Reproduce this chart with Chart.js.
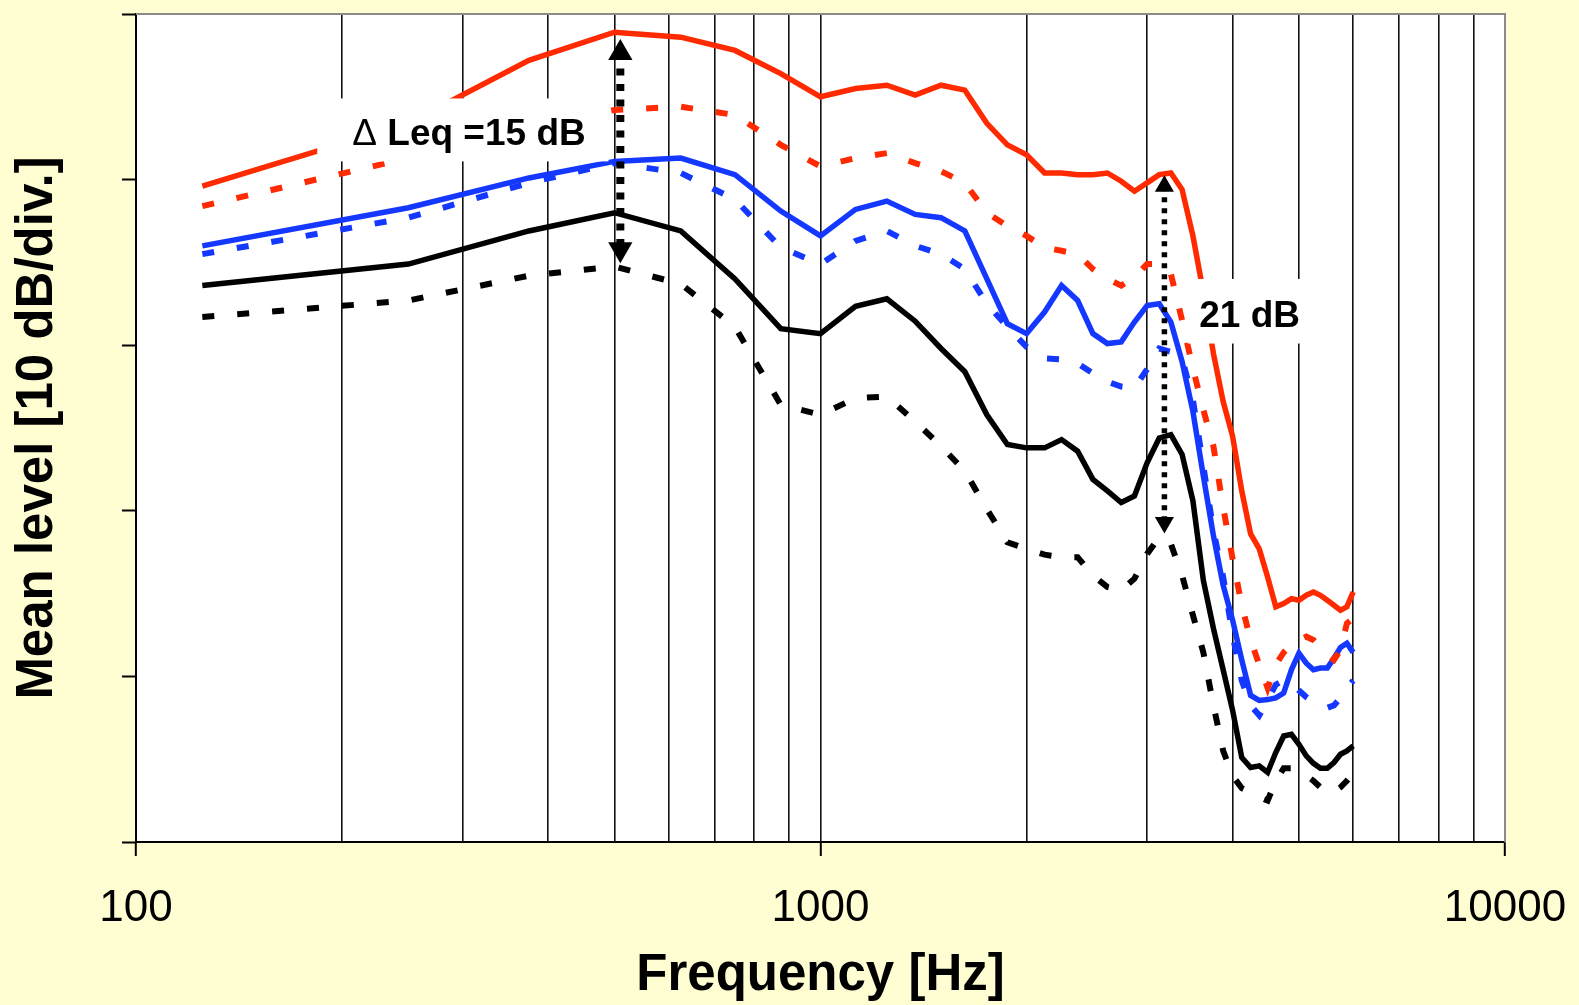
<!DOCTYPE html>
<html>
<head>
<meta charset="utf-8">
<title>Mean level spectrum</title>
<script src="https://cdn.jsdelivr.net/npm/chart.js@4.4.1/dist/chart.umd.min.js"></script>
<style>
  html, body { margin: 0; padding: 0; background: #FFFED3; }
  canvas { display: block; }
</style>
</head>
<body>
<canvas id="spectrumChart" width="1579" height="1005"></canvas>
<script>
// narrowband spectrum, 125 Hz bins
const freqs = [125, 250, 375, 500, 625, 750, 875, 1000, 1125, 1250, 1375, 1500,
  1625, 1750, 1875, 2000, 2125, 2250, 2375, 2500, 2625, 2750, 2875, 3000,
  3125, 3250, 3375, 3500, 3625, 3750, 3875, 4000, 4125, 4250, 4375, 4500,
  4625, 4750, 4875, 5000, 5125, 5250, 5375, 5500, 5625, 5750, 5875, 6000];

const redSolid = [39.6, 43.4, 47.2, 48.9, 48.6, 47.8, 46.4, 45.0, 45.5, 45.7, 45.1, 45.7,
  45.4, 43.4, 42.1, 41.5, 40.4, 40.4, 40.3, 40.3, 40.4, 39.9, 39.3, 39.8,
  40.3, 40.4, 39.4, 36.6, 33.2, 29.5, 26.6, 24.5, 21.2, 18.6, 17.7, 16.0,
  14.2, 14.4, 14.7, 14.6, 14.9, 15.1, 14.9, 14.6, 14.3, 14.0, 14.2, 15.1];
const redDash = [38.4, 41.3, 43.2, 44.2, 44.4, 43.9, 42.1, 40.8, 41.3, 41.6, 41.0, 40.5,
  39.8, 38.0, 37.2, 36.6, 35.9, 35.7, 35.5, 34.6, 34.0, 33.6, 34.1, 34.9,
  34.9, 34.3, 31.5, 28.6, 26.1, 23.9, 20.2, 17.1, 14.3, 12.2, 10.7, 9.3,
  10.7, 11.45, 11.9, 12.2, 12.4, 12.2, 11.75, 11.3, 11.0, 11.6, 13.2, 13.5];
const blueSolid = [36.0, 38.3, 40.1, 41.1, 41.3, 40.3, 38.1, 36.6, 38.2, 38.7, 37.9, 37.7,
  36.9, 34.0, 31.3, 30.7, 32.0, 33.6, 32.7, 30.7, 30.1, 30.2, 31.4, 32.4,
  32.5, 31.4, 29.0, 26.0, 22.1, 18.5, 15.5, 13.4, 11.0, 8.85, 8.55, 8.6,
  8.7, 9.0, 10.4, 11.4, 10.8, 10.4, 10.5, 10.5, 11.1, 11.75, 12.0, 11.45];
const blueDash = [35.5, 37.7, 39.8, 41.0, 40.4, 38.8, 35.9, 34.9, 36.3, 36.9, 36.0, 35.5,
  34.6, 32.5, 31.1, 29.9, 29.2, 29.15, 28.9, 28.3, 27.8, 27.5, 27.4, 28.55,
  29.8, 29.6, 29.2, 26.7, 22.7, 18.8, 16.0, 12.5, 9.75, 8.25, 7.65, 8.55,
  9.5, 9.75, 9.6, 9.15, 8.75, 8.45, 8.25, 8.1, 8.25, 8.7, 9.3, 9.75];
const blackSolid = [33.6, 34.9, 36.9, 38.0, 36.9, 34.0, 31.0, 30.7, 32.35, 32.8, 31.45, 29.8,
  28.4, 25.8, 24.0, 23.8, 23.8, 24.3, 23.6, 21.9, 21.2, 20.5, 20.9, 22.9,
  24.4, 24.6, 23.4, 20.6, 15.8, 12.9, 10.4, 7.95, 5.1, 4.5, 4.6, 4.2,
  5.4, 6.4, 6.5, 5.9, 5.2, 4.75, 4.45, 4.45, 4.8, 5.3, 5.5, 5.8];
const blackDash = [31.7, 32.7, 34.2, 34.75, 33.7, 31.1, 26.4, 25.8, 26.8, 26.9, 25.4, 23.9,
  22.4, 20.1, 18.1, 17.7, 17.35, 17.2, 17.2, 16.1, 15.4, 15.2, 15.9, 17.4,
  18.4, 18.0, 16.1, 13.7, 11.45, 8.25, 5.5, 4.0, 3.25, 3.0, 2.7, 2.5,
  3.7, 4.45, 4.45, 4.3, 4.0, 3.7, 3.3, 3.0, 3.0, 3.3, 3.7, 4.15];

const xTickLabels = [100, 1000, 10000];
const gridFreqs = [100, 200, 300, 400, 500, 600, 700, 800, 900,
  1000, 2000, 3000, 4000, 5000, 6000, 7000, 8000, 9000, 10000];

// double arrows (head centres, data units)
const arrowLeq = [{x: 510, y: 47.65}, {x: 510, y: 35.8}];
const arrow21 = [{x: 3180, y: 39.6}, {x: 3180, y: 19.3}];

// labels with white boxes: box = [f0, level0, f1, level1]
const notes = [
  {sym: 'Δ ', text: 'Leq =15 dB', x: 207, y: 42.1, box: [184, 44.9, 490, 41.1]},
  {sym: '', text: '21 dB', x: 3575, y: 31.1, box: [3440, 34.0, 5150, 30.1]}
];

const FONT = '"Liberation Sans", Arial, Helvetica, sans-serif';
Chart.defaults.font.family = FONT;
Chart.defaults.color = '#000';

const RED = '#FF2A00', BLUE = '#1438FF', BLACK = '#000000';
const pts = vals => freqs.map((f, i) => ({x: f, y: vals[i]}));

function series(vals, color, dashed) {
  return {
    data: pts(vals),
    borderColor: color,
    borderWidth: dashed ? 6 : 5.5,
    borderDash: dashed ? [12, 23] : [],
    pointRadius: 0,
    tension: 0,
    fill: false
  };
}

function arrow(data, width, dash, head) {
  return {
    data: data,
    borderColor: BLACK,
    borderWidth: width,
    borderDash: dash,
    pointStyle: 'triangle',
    pointRadius: head,
    pointRotation: ctx => ctx.dataIndex === 0 ? 0 : 180,
    pointBackgroundColor: BLACK,
    pointBorderWidth: 0,
    order: -1
  };
}

// no extra room for the edge labels, the plot box is fixed
function noEdgePadding(s) {
  s.paddingLeft = 0;
  s.paddingRight = 0;
  s.paddingTop = 0;
  s.paddingBottom = 0;
}

const plotFrame = {
  id: 'plotFrame',
  beforeDraw(chart) {
    const {ctx, chartArea: a} = chart;
    ctx.save();
    ctx.fillStyle = '#FFFFFF';
    ctx.fillRect(a.left, a.top, a.right - a.left, a.bottom - a.top);
    ctx.restore();
  },
  beforeDatasetsDraw(chart) {
    const {ctx, chartArea: a} = chart;
    ctx.save();
    ctx.strokeStyle = '#8a8a8a';
    ctx.lineWidth = 2;
    ctx.beginPath();
    ctx.moveTo(a.left, a.top);
    ctx.lineTo(a.right, a.top);
    ctx.lineTo(a.right, a.bottom);
    ctx.stroke();
    ctx.restore();
  }
};

const notesPlugin = {
  id: 'notes',
  afterDatasetsDraw(chart) {
    const {ctx} = chart;
    const xs = chart.scales.x, ys = chart.scales.y;
    ctx.save();
    notes.forEach(n => {
      const x0 = xs.getPixelForValue(n.box[0]), y0 = ys.getPixelForValue(n.box[1]);
      const x1 = xs.getPixelForValue(n.box[2]), y1 = ys.getPixelForValue(n.box[3]);
      ctx.fillStyle = '#FFFFFF';
      ctx.fillRect(x0, y0, x1 - x0, y1 - y0);
      let tx = xs.getPixelForValue(n.x);
      const ty = ys.getPixelForValue(n.y);
      ctx.fillStyle = '#000';
      ctx.textBaseline = 'alphabetic';
      if (n.sym) {
        ctx.font = '37px ' + FONT;
        ctx.fillText(n.sym, tx, ty);
        tx += ctx.measureText(n.sym).width;
      }
      ctx.font = 'bold 37px ' + FONT;
      ctx.fillText(n.text, tx, ty);
    });
    ctx.restore();
  }
};

new Chart(document.getElementById('spectrumChart'), {
  type: 'line',
  data: {
    datasets: [
      series(redSolid, RED, false),
      series(redDash, RED, true),
      series(blueSolid, BLUE, false),
      series(blueDash, BLUE, true),
      series(blackSolid, BLACK, false),
      series(blackDash, BLACK, true),
      arrow(arrowLeq, 8, [7, 8.5], 14),
      arrow(arrow21, 5.5, [5, 6], 11)
    ]
  },
  options: {
    responsive: false,
    animation: false,
    layout: {padding: {top: 12, right: 74, left: 0, bottom: 0}},
    plugins: {
      legend: {display: false},
      tooltip: {enabled: false}
    },
    scales: {
      x: {
        type: 'logarithmic',
        min: 100,
        max: 10000,
        afterBuildTicks: s => { s.ticks = gridFreqs.map(v => ({value: v})); },
        afterFit: s => { s.height = 163; noEdgePadding(s); },
        ticks: {
          autoSkip: false,
          maxRotation: 0,
          minRotation: 0,
          padding: 31,
          color: '#000',
          font: {size: 44, lineHeight: 1},
          callback: v => xTickLabels.includes(v) ? String(v) : ''
        },
        grid: {
          color: '#111',
          lineWidth: 1.6,
          drawTicks: true,
          tickLength: 14,
          tickWidth: 2,
          tickColor: ctx => (ctx.tick && xTickLabels.includes(ctx.tick.value)) ? '#000' : 'rgba(0,0,0,0)'
        },
        border: {display: true, color: '#000', width: 2},
        title: {
          display: true,
          text: 'Frequency [Hz]',
          color: '#000',
          font: {size: 51, weight: 'bold', lineHeight: 1},
          padding: {top: 0, bottom: 4}
        }
      },
      y: {
        min: 0,
        max: 50,
        afterFit: s => { s.width = 136; noEdgePadding(s); },
        ticks: {display: false, stepSize: 10},
        grid: {
          drawOnChartArea: false,
          drawTicks: true,
          tickLength: 14,
          tickWidth: 2,
          tickColor: '#000'
        },
        border: {display: true, color: '#000', width: 2},
        title: {
          display: true,
          text: 'Mean level [10 dB/div.]',
          color: '#000',
          font: {size: 51, weight: 'bold', lineHeight: 1},
          padding: {top: 12, bottom: 0}
        }
      }
    }
  },
  plugins: [plotFrame, notesPlugin]
});
</script>
</body>
</html>
